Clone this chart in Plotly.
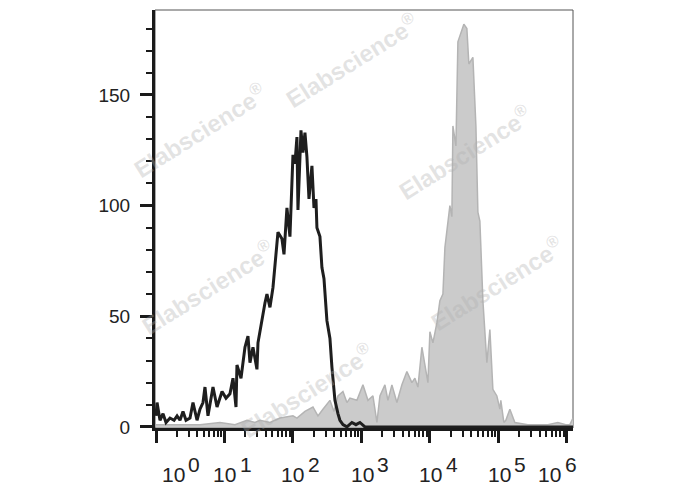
import plotly.graph_objects as go

# Black (control) histogram: log10 intensity, counts
black_log = [0.0, 0.015, 0.058, 0.102, 0.146, 0.204, 0.263, 0.307, 0.350, 0.394, 0.438, 0.496,
             0.540, 0.599, 0.642, 0.686, 0.715, 0.759, 0.832, 0.891, 0.964, 1.022, 1.080, 1.124,
             1.168, 1.182, 1.241, 1.299, 1.343, 1.372, 1.416, 1.474, 1.489, 1.562, 1.591, 1.620,
             1.664, 1.708, 1.781, 1.839, 1.869, 1.912, 1.956, 2.000, 2.029, 2.058, 2.073, 2.117,
             2.146, 2.175, 2.204, 2.234, 2.277, 2.307, 2.336, 2.350, 2.394, 2.423, 2.453, 2.496,
             2.540, 2.569, 2.613, 2.657, 2.686, 2.730, 2.788, 2.861, 2.920, 2.978, 3.051, 6.09]
black_counts = [5, 11, 3, 6, 2, 4, 3, 5, 3, 7, 3, 4,
                11, 3, 8, 11, 18, 5, 18, 9, 16, 13, 15, 22,
                9, 28, 22, 36, 41, 29, 36, 26, 38, 52, 56, 60,
                54, 63, 88, 85, 78, 99, 86, 123, 119, 131, 98, 134,
                124, 133, 122, 103, 118, 99, 103, 90, 86, 72, 67, 48,
                40, 27, 12, 6, 3, 1, 0, 2, 1, 2, 0, 0]

# Gray (stained) histogram: log10 intensity, counts
gray_log = [0.0, 0.277, 0.642, 0.934, 1.153, 1.328, 1.445, 1.518, 1.664, 1.810, 2.000, 2.058,
            2.175, 2.292, 2.365, 2.438, 2.540, 2.599, 2.657, 2.730, 2.788, 2.832, 2.934, 3.022,
            3.095, 3.168, 3.226, 3.270, 3.343, 3.387, 3.445, 3.518, 3.591, 3.664, 3.737, 3.781,
            3.825, 3.883, 3.927, 3.971, 4.000, 4.044, 4.102, 4.146, 4.190, 4.219, 4.292, 4.321,
            4.336, 4.380, 4.409, 4.467, 4.496, 4.540, 4.569, 4.628, 4.672, 4.701, 4.730, 4.774,
            4.832, 4.876, 4.920, 4.978, 5.022, 5.036, 5.080, 5.109, 5.168, 5.241, 5.431, 5.577,
            5.723, 5.869, 5.985, 6.044, 6.09]
gray_counts = [1, 1, 1, 2, 1, 3, 2, 3, 2, 4, 5, 4,
               7, 9, 5, 8, 12, 7, 14, 16, 11, 13, 12, 19,
               12, 14, 2, 14, 19, 12, 19, 11, 19, 25, 20, 22,
               18, 36, 27, 20, 43, 38, 47, 57, 60, 81, 100, 95,
               136, 127, 174, 179, 182, 180, 164, 167, 136, 97, 93, 57,
               29, 44, 17, 14, 8, 12, 2, 3, 8, 2, 1, 1,
               1, 2, 1, 1, 4]

x_tick_exponents = [0, 1, 2, 3, 4, 5, 6]
x_label_shift = [17, 0, 0, 1, 1, 1, -17]   # shift of the "10" part relative to tick
y_tick_vals = [0, 50, 100, 150]

FONT = "Liberation Sans, Arial, sans-serif"

fig = go.Figure()
fig.add_trace(go.Scatter(
    x=[10 ** e for e in gray_log], y=gray_counts, mode="lines",
    line=dict(color="#b4b4b4", width=1.5, shape="linear"),
    fill="tozeroy", fillcolor="#cbcbcb", hoverinfo="skip", showlegend=False))
fig.add_trace(go.Scatter(
    x=[10 ** e for e in black_log], y=black_counts, mode="lines",
    line=dict(color="#1e1e1e", width=3), hoverinfo="skip", showlegend=False))

annotations = []
for e, s in zip(x_tick_exponents, x_label_shift):
    annotations.append(dict(
        x=e, y=0, xref="x", yref="paper", yanchor="middle", xanchor="center",
        yshift=-46, xshift=s, showarrow=False, text="10",
        font=dict(family=FONT, size=21, color="#222")))
    annotations.append(dict(
        x=e, y=0, xref="x", yref="paper", yanchor="middle", xanchor="left",
        yshift=-36, xshift=s + 13, showarrow=False, text=str(e),
        font=dict(family=FONT, size=21, color="#222")))

# Watermarks (pixel centres in the reference picture)
wm = [(200, 130), (352, 60), (465, 152), (497, 283), (208, 287), (307, 390)]
for px, py in wm:
    annotations.append(dict(
        x=(px - 155) / (573 - 155), y=(428 - py) / (428 - 10), xref="paper", yref="paper",
        xanchor="center", yanchor="middle",
        showarrow=False, textangle=-32, text="Elabscience<sup>®</sup>",
        font=dict(family=FONT, size=24, color="rgba(175,175,175,0.35)", weight="bold")))

fig.update_layout(
    width=688, height=490,
    margin=dict(l=147, r=123, t=2, b=70),
    paper_bgcolor="white", plot_bgcolor="white",
    font=dict(family=FONT, size=19, color="#222"),
    annotations=annotations,
    shapes=[dict(type="rect", xref="paper", yref="paper", x0=0, y0=0, x1=1, y1=1,
                 line=dict(color="#555", width=1), layer="below")],
    xaxis=dict(type="log", range=[-0.015, 6.09], showgrid=False, zeroline=False,
               showline=True, linecolor="#1a1a1a", linewidth=3,
               tickvals=[10 ** e for e in x_tick_exponents], showticklabels=False,
               ticks="outside", ticklen=12, tickwidth=3, tickcolor="#1a1a1a",
               minor=dict(ticks="outside", ticklen=6, tickwidth=2, tickcolor="#1a1a1a", dtick="D1",
                          showgrid=False)),
    yaxis=dict(range=[-0.5, 188.4], showgrid=False, zeroline=False,
               showline=True, linecolor="#1a1a1a", linewidth=3,
               tickvals=y_tick_vals, ticks="outside", ticklen=12, tickwidth=3, tickcolor="#1a1a1a",
               ticklabelstandoff=6,
               tickfont=dict(family=FONT, size=19, color="#222"),
               minor=dict(ticks="outside", ticklen=6, tickwidth=2, tickcolor="#1a1a1a", dtick=10,
                          showgrid=False)),
)

fig.write_html("out.html")
